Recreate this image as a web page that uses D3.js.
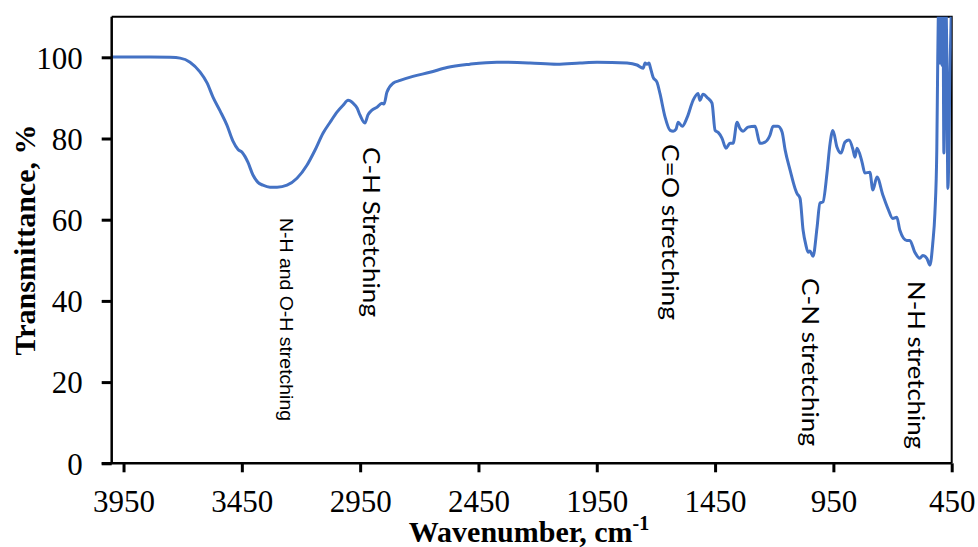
<!DOCTYPE html>
<html>
<head>
<meta charset="utf-8">
<script src="https://cdn.jsdelivr.net/npm/d3@7"></script>
<style>
  html, body { margin: 0; padding: 0; background: #fff; }
  svg { display: block; }
</style>
</head>
<body>
<svg id="chart" width="978" height="547"></svg>
<script>
// FTIR spectrum: wavenumber (cm-1) vs transmittance (%)
const wavenumber = [
  4000, 3838, 3753, 3711, 3669, 3627, 3597, 3572, 3542, 3513, 3487, 3466, 3449, 3437, 3424,
  3403, 3382, 3361, 3331, 3301, 3259, 3217, 3175, 3141, 3107, 3077, 3048, 3022, 3001, 2980,
  2963, 2951, 2930, 2917, 2900, 2879, 2858, 2849, 2837, 2811, 2781, 2727, 2655, 2583, 2486,
  2372, 2232, 2118, 2021, 1949, 1822, 1780, 1754, 1746, 1738, 1729, 1725, 1712, 1695, 1683,
  1661, 1640, 1627, 1615, 1606, 1589, 1568, 1543, 1522, 1514, 1501, 1480, 1463, 1450, 1437,
  1421, 1404, 1387, 1374, 1357, 1345, 1332, 1311, 1281, 1260, 1239, 1218, 1205, 1184, 1167,
  1154, 1133, 1112, 1104, 1091, 1078, 1066, 1057, 1049, 1036, 1019, 1007, 994, 977, 964,
  952, 935, 918, 901, 884, 867, 859, 850, 829, 817, 796, 783, 766, 741, 720,
  699, 682, 669, 640, 627, 606, 585, 572, 555, 542, 530, 521, 513, 509, 504,
  500, 496, 491, 487, 483, 476, 471, 466, 457, 450
];
const transmittance = [
  100.1, 100.1, 100.0, 99.8, 98.8, 96.4, 93.7, 90.2, 86.8, 83.3, 79.3, 77.3, 76.6, 75.6, 74.1,
  71.0, 69.2, 68.5, 68.0, 68.0, 68.5, 70.2, 73.4, 77.1, 81.3, 84.0, 86.5, 88.2, 89.4, 88.7,
  87.5, 85.8, 83.8, 85.8, 87.0, 87.7, 88.7, 88.5, 91.4, 93.6, 94.3, 95.3, 96.3, 97.5, 98.3,
  98.8, 98.6, 98.3, 98.6, 98.8, 98.6, 98.1, 97.3, 98.6, 98.3, 98.6, 97.8, 95.1, 93.8, 91.1,
  85.2, 82.0, 81.8, 82.3, 84.0, 83.0, 85.2, 89.4, 91.1, 89.4, 90.9, 89.9, 88.7, 82.0, 81.5,
  80.1, 77.6, 78.8, 78.8, 84.0, 82.5, 81.8, 82.8, 83.0, 78.8, 79.1, 80.8, 83.0, 83.0, 81.6,
  77.2, 72.2, 67.7, 66.5, 65.3, 57.4, 53.7, 52.0, 52.3, 51.0, 58.1, 64.1, 64.4, 71.5, 78.8,
  82.0, 77.9, 76.4, 79.1, 79.6, 77.2, 75.4, 77.6, 74.2, 71.5, 71.7, 67.3, 70.5, 66.1, 62.8,
  60.3, 60.6, 57.4, 54.9, 54.9, 52.0, 50.5, 51.2, 50.5, 48.8, 54.2, 61.6, 77.1, 99.3, 116,
  98.6, 116, 98.0, 116, 76.4, 116, 102.2, 67.7, 97.5, 116
];

const xTicks = [3950, 3450, 2950, 2450, 1950, 1450, 950, 450];
const yTicks = [0, 20, 40, 60, 80, 100];

// Band assignments written along the spectrum
const bandLabels = ["N-H and O-H stretching", "C-H Stretching", "C=O stretching", "C-N stretching", "N-H stretching"];

const margin = { left: 111.7, top: 16.7, right: 978 - 951.7, bottom: 547 - 463.3 };
const W = 978, H = 547;
const svg = d3.select("#chart");

const x = d3.scaleLinear().domain([4000, 450]).range([margin.left, W - margin.right]);
const y = d3.scaleLinear().domain([0, 110]).range([H - margin.bottom, margin.top]);

const serif = "'Liberation Serif', 'Times New Roman', serif";

// Plot frame (top and right edges)
svg.append("path")
  .attr("d", `M${x.range()[0]},${y(110)}H${x.range()[1]}V${y(0)}`)
  .attr("fill", "none").attr("stroke", "#000").attr("stroke-width", 2);

// Clip the spectrum to the plot area
svg.append("clipPath").attr("id", "plot-clip")
  .append("rect")
  .attr("x", x.range()[0]).attr("y", y(110))
  .attr("width", x.range()[1] - x.range()[0]).attr("height", y(0) - y(110));

const points = wavenumber.map((w, i) => [w, transmittance[i]]);
const line = d3.line().x(d => x(d[0])).y(d => y(d[1])).curve(d3.curveMonotoneX);

svg.append("path")
  .datum(points)
  .attr("clip-path", "url(#plot-clip)")
  .attr("fill", "none")
  .attr("stroke", "#4472C4")
  .attr("stroke-width", 3)
  .attr("stroke-linejoin", "round")
  .attr("d", line);

// X axis
const xAxis = svg.append("g")
  .attr("transform", `translate(0,${y(0)})`)
  .call(d3.axisBottom(x).tickValues(xTicks).tickSize(9).tickSizeOuter(0).tickFormat(d3.format("d")));
xAxis.select(".domain").attr("stroke", "#000").attr("stroke-width", 2.5)
  .attr("d", `M${margin.left - 10},0H${x.range()[1]}`);
xAxis.selectAll(".tick line").attr("stroke", "#000").attr("stroke-width", 3);
xAxis.selectAll(".tick text")
  .attr("y", 49).attr("dy", 0)
  .attr("font-family", serif).attr("font-size", 31).attr("fill", "#000");

// Y axis
const yAxis = svg.append("g")
  .attr("transform", `translate(${margin.left},0)`)
  .call(d3.axisLeft(y).tickValues(yTicks).tickSize(10).tickSizeOuter(0));
yAxis.select(".domain").attr("stroke", "#000").attr("stroke-width", 2.5)
  .attr("d", `M0,${y(110)}V${y(0)}`);
yAxis.selectAll(".tick line").attr("stroke", "#000").attr("stroke-width", 3);
yAxis.selectAll(".tick text")
  .attr("x", -29).attr("dy", "0.35em")
  .attr("font-family", serif).attr("font-size", 31).attr("fill", "#000");

// Axis titles
svg.append("text")
  .attr("transform", `translate(35,240) rotate(-90)`)
  .attr("text-anchor", "middle")
  .attr("font-family", serif).attr("font-weight", "bold").attr("font-size", 30)
  .text("Transmittance, %");

const xTitle = svg.append("text")
  .attr("x", 529).attr("y", 542)
  .attr("text-anchor", "middle")
  .attr("font-family", serif).attr("font-weight", "bold").attr("font-size", 30);
xTitle.append("tspan").text("Wavenumber, cm");
xTitle.append("tspan").attr("font-size", 20).attr("dy", -12).text("-1");

// Band annotations, written top-to-bottom
const labelStyle = [
  { top: 218, len: 203, size: 18.5, font: "'Liberation Sans', Arial, sans-serif", dx: 280 },
  { top: 147, len: 170, size: 22.5, font: "Lato, 'Open Sans', sans-serif", dx: 363 },
  { top: 144, len: 176, size: 22.5, font: "Lato, 'Open Sans', sans-serif", dx: 662 },
  { top: 278, len: 168, size: 22.5, font: "Lato, 'Open Sans', sans-serif", dx: 801.5 },
  { top: 281, len: 168, size: 22.5, font: "Lato, 'Open Sans', sans-serif", dx: 908 }
];
bandLabels.forEach((t, i) => {
  const s = labelStyle[i];
  svg.append("text")
    .attr("transform", `translate(${s.dx},${s.top}) rotate(90)`)
    .attr("font-family", s.font).attr("font-size", s.size).attr("fill", "#000")
    .attr("textLength", s.len).attr("lengthAdjust", "spacingAndGlyphs")
    .text(t);
});
</script>
</body>
</html>
